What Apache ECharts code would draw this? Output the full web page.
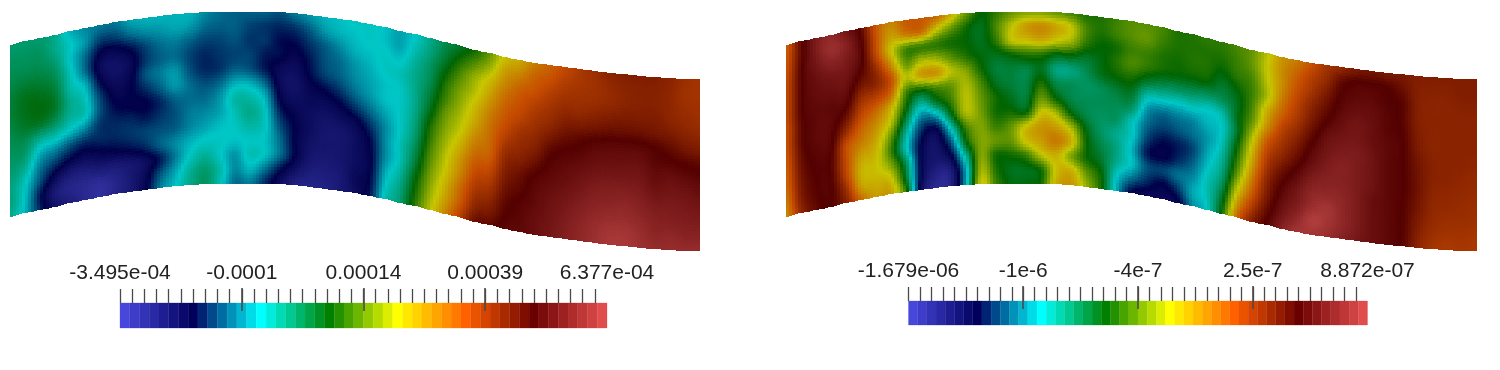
<!DOCTYPE html>
<html><head><meta charset="utf-8">
<style>html,body{margin:0;padding:0;background:#fff}#c{width:1500px;height:370px}</style>
<script src="https://cdn.jsdelivr.net/npm/echarts@6/dist/echarts.min.js"></script>
</head><body><div id="c"></div>
<script>
const rampColors=['#4747db','#00005c','#00ffff','#008000','#ffff00','#ff6100','#6b0000','#e04d4d'];
const surfaceShade=0.78;
const channelX=[10,25,40,55,70,85,100,115,130,145,160,175,190,205,220,235,250,265,280,295,310,325,340,355,370,385,400,415,430,445,460,475,490,505,520,535,550,565,580,595,610,625,640,655,670,685,700];
const topEdge=[45,41,38,35,31,28,25,22,20,18,16,14,13,12,12,12,12,12,12,13,15,17,19,21,24,27,31,34,38,42,45,50,53,57,60,63,65,67,69,71,73,74,76,77,78,79,79];
const channelDepth=172;
// Field values per column (top to bottom), percent of the colour-bar range
const leftField=[
[35,36,37,38,39,39,38,37,36,35,34,34,33],
[35,36,37,39,41,41,40,37,35,32,29,28,27],
[35,36,37,39,41,42,40,33,27,23,20,16,17],
[33,33,35,37,39,40,37,31,24,18,12,8,10],
[27,29,28.5,30,31,33,32,28,20,14,8,5,7],
[24,25,22,22,27,29.5,30,24,17,12,7,4,4],
[23,19,14,12,15,19,20,18,17,13,8,3,2],
[23,19,13,10,11,13,15,17,17,14,8,5,5],
[26,22,15,12,13,14,14,17,18,15,9,8,8],
[27,24,19,18,20,17,14,16,19,17,11,12,13],
[27,25,22,21,23,21,17,18,20,21,16,20,23],
[27,26,23,22,25,25,21,20,21,24,23,26,28],
[27,25,21,19,20,22,22,23,24,27,29,32,33],
[24,22,19,17,17,20,22,24,26,29,32,35,36],
[22,21,19,18,18,22,25,26,28,29,29,31,30],
[21,21,20,19,21,27,31,30,29,28,25,24,22],
[21,19,18,19,20,27,31,33,31,29,30,27,23],
[21,18,18,16,16,22,27,29,29,28,28,22,17],
[20,17,15,15,12,12,14,17,20,22,22,15,11],
[23,18,15,13,11,10,11,13,14,14,14,10,6],
[25,21,18,16,15,13,12,11,11,10,9,7,5],
[27,25,21,20,19,15,12,10,9,9,8,7,6],
[28,27,24,22,21,18,14,11,9,9,9,8,8],
[29,28,27,25,24,22,18,13,11,11,11,12,11],
[29,29,28,27,26,25,22,18,15,14,14,15,16],
[28,28,29,29,28,28,26,24,24,24,26,28,30],
[26,26,28,30,29,29,29,29,30,30,32,34,35],
[28.5,30,32,33,33,33,34,35,37,39,42,44,46],
[33,34,36,37,39,41,44,46,48,50,52,54,56],
[37,39,42,45,47,50,52,54,56,57.5,60,62,65],
[40,44,48,51,53,55,57,60,63,65,68,70,74],
[44,49,54,56,59,61,64,67,70,73,76,79,83],
[50,54,59,62,65,67,68,69,72,75,78,81,84],
[58,62,65,68,70,72,75,78,80,82,84,85.5,87],
[61,65,69,71,73,76,78,80,83,84.5,86.3,87,87.5],
[66,69,71,74,76,78,80,83,86.3,87.5,88,89,89],
[69,71,74,76,78,81,84.5,86.5,87.8,89,90,90.5,91],
[72,74,76,78,80.5,83.5,86.3,87.8,89,90.5,91.5,92.5,93],
[75,75.5,76.5,78,81,85,87,89,90.5,92,93.5,94.5,95],
[77,76.5,77,79,82,86.4,88.5,90,92,93.5,95,96.5,97],
[79,78,78,80,83,87,88.8,90.5,92.5,94,96,98,99],
[80,79,79,80.5,83,87,89,90.5,92.5,94.5,96,98,99],
[80,79.5,79.5,80.5,83,87,89,90.5,92,93.5,95,96.5,97],
[80,79.5,79.5,80.5,82,85.8,87,88.5,90,92,93.5,94.5,96],
[79,78.5,78.5,79,81,84,86.5,89,90.5,92,93,95,96],
[77,76.5,77,78,79.5,82,85.5,88,90,91.5,92.5,94,96],
[76,76,76.5,77,78.5,81,84.5,87,89,90.5,92,94,96]];
const rightField=[
[69,70,71,72,72,72,71,71,70,69,68,66,64],
[84,84,85,85,85,85,84,84,83,82,81,80,78],
[92,92,90.5,89,88.3,87.5,87.5,87.5,86.8,86,85.5,85,84],
[95,96.5,93.5,90.5,89,87.5,87.5,86.8,86,85,85.5,86,85.5],
[90.5,93.5,92,90.5,89,86.8,83,78,72,72,73,77,80],
[84,86,86.8,85.5,82,77,73,69,66,62,60,62,68],
[70,71,72,77,79,74,68,64,61,59,58,60,62],
[65,62,58,64,71,68,60,56,50,47,52,58,62],
[70,66,48,50,56,48,44,38,32,30,37,40,46],
[70,67,47,55,62,44,32,23,17,14,14,14,12],
[68,57,46,54,63,48,40,25,13,10,9,6,4],
[60,50,44,49,56,50,47,41,29,20,13,7,6],
[50,44,43,45,52,55,56,55,47,42,32,26,26],
[43,41,41,42,44,48,50,51,52,52,52,54,57],
[46,48,46,41,39,41,44,44,47,50,44,45,47],
[50,56,56,43,39,39,41,44,50,50,44,41,42],
[52,62,58,45,38,38,39,43,58,58,47,41,42],
[52,64,60,45,41,45,50,57,63,62,56,44,44],
[50,61,57,42,34,38,43,54,62,66,60,58,60],
[48,57,54,42,34,37,38,43,55,60,52,60,63],
[45,48,46,40,37,36,37,38,42,44,44,50,54],
[45,45,43,42,41,37,37,36,36,38,40,43,44],
[47,47,44,45,43,39,37,36,33,34,33,29,27],
[49,49,47,48,44,40,36,30,29,27,28,22,14],
[49,50,47,46,40,31,25,22,19,16,20,17,12],
[48,47,45,44,38,30,22,19,15,13.5,19,14,12],
[45,45,44,43,37,29,23,20,16,17,22,18,13],
[45,45,45,43,37,30,24,22,19,21,24,26,24],
[46,45,45,43,36,29,27,25,26,28,30,30,29],
[46,45,43,40,37,31,29,30,32,34,37,41,44],
[48,47,46,43,41,41,40,43,46,50,56,62,68],
[50,50,48,47,48,50,55,59,62,66,70,75,80],
[56,57,56,55,60,63,69,73,76,79,81,84,86.5],
[63,64,64,66,69,73,76,79,83,86,88.3,90.5,93.5],
[66,69,71,73,75,78,81,84,87.5,90.5,92,95,98],
[71,74,76,79,81,84,86.8,89,92,94.5,96.5,100,98],
[76,78,81,83.5,86,89,90.5,92,93.5,95,98,98,96.5],
[78,84,86,87.5,89,90.5,92,93.5,93.5,94.5,95,95,93.5],
[81,86,87.5,89,90.5,91,92,92,92,92,92,92,91],
[82,86,87.5,88.5,89,89,90,90,90,89,89,89,89],
[81,85.5,86,86.8,86.8,87.5,87.5,87.5,87.5,87.5,87.5,87.5,87.5],
[81,83,85,85,85.5,86,86,86,86,85.7,85.5,85.5,85],
[80,80,80,80,80.5,81,82,82.5,82.5,82,81,80,79],
[80,79.5,79,79,79,79,79.5,79.5,79,78.5,78,77,76],
[80,79.5,79,79,79,79,79,79,78.5,78,77,76,75],
[80,80,79.5,79,79,79,79,78.5,78,77.5,77,76,75.5],
[80,80,79.5,79,79,79,78.5,78,77.5,77,76.5,75.5,75]];
const leftRange=[-3.495e-4,6.377e-4];
const rightRange=[-1.679e-6,8.872e-7];
const leftTickValues=[-3.495e-4,-1.027e-4,1.441e-4,3.909e-4,6.377e-4];
const rightTickValues=[-1.679e-6,-1.0375e-6,-3.96e-7,2.455e-7,8.872e-7];
const leftTickLabels=['-3.495e-04','-0.0001','0.00014','0.00039','6.377e-04'];
const rightTickLabels=['-1.679e-06','-1e-6','-4e-7','2.5e-7','8.872e-07'];
const barSteps=50, tickSteps=40, SUB=5;

const rowFrac=j=>j/12;
const rgb=s=>echarts.color.parse(s);
function shaded(p){
  const c=rgb(echarts.color.lerp(Math.max(0,Math.min(1,p/100)),rampColors));
  return 'rgb('+Math.round(c[0]*surfaceShade)+','+Math.round(c[1]*surfaceShade)+','+Math.round(c[2]*surfaceShade)+')';
}
// Catmull-Rom surface shading inside a cell
const cr=(a,b,c,d,t)=>b+.5*t*(c-a+t*(2*a-5*b+4*c-d+t*(3*(b-c)+d-a)));
function sample(field,i,j,u,w){
  const vals=[];
  for(let k=-1;k<=2;k++){
    const col=field[Math.max(0,Math.min(field.length-1,i+k))];
    const g=n=>col[Math.max(0,Math.min(12,n))];
    vals.push(cr(g(j-1),g(j),g(j+1),g(j+2),w));
  }
  return cr(vals[0],vals[1],vals[2],vals[3],u);
}
function fieldSeries(field,axis){
  const data=[];
  field.forEach((col,i)=>col.forEach((v,j)=>data.push([channelX[i],topEdge[i]+rowFrac(j)*channelDepth,v,i,j])));
  return {type:'custom',coordinateSystem:'cartesian2d',xAxisIndex:axis,yAxisIndex:axis,silent:true,animation:false,progressive:0,
    encode:{x:0,y:1},data,
    renderItem(params,api){
      const i=api.value(3),j=api.value(4);
      if(i>=channelX.length-1||j>=12) return null;
      const children=[];
      const x0=channelX[i],x1=channelX[i+1],t0=topEdge[i],t1=topEdge[i+1];
      for(let m=0;m<SUB;m++)for(let n=0;n<SUB;n++){
        const um=(m+.5)/SUB;
        const edge=t0+(t1-t0)*um;
        const a=api.coord([x0+(x1-x0)*m/SUB,edge+rowFrac(j+n/SUB)*channelDepth]);
        const b=api.coord([x0+(x1-x0)*(m+1)/SUB,edge+rowFrac(j+(n+1)/SUB)*channelDepth]);
        const ax=Math.round(a[0]),ay=Math.round(a[1]),bx=Math.round(b[0]),by=Math.round(b[1]);
        children.push({type:'rect',shape:{x:ax,y:ay,width:bx-ax,height:by-ay},style:{fill:shaded(sample(field,i,j,um,(n+.5)/SUB))}});
      }
      return {type:'group',children};
    }};
}
function barSeries(range,xIndex,yIndex){
  const span=range[1]-range[0],data=[];
  for(let k=0;k<barSteps;k++)data.push([range[0]+span*k/barSteps,range[0]+span*(k+1)/barSteps,k/(barSteps-1)]);
  return {type:'custom',coordinateSystem:'cartesian2d',xAxisIndex:xIndex,yAxisIndex:yIndex,silent:true,animation:false,z:1,data,encode:{x:[0,1]},
    renderItem(params,api){
      const a=api.coord([api.value(0),1]),b=api.coord([api.value(1),0]);
      const col=echarts.color.lerp(api.value(2),rampColors);
      return {type:'rect',shape:{x:a[0],y:a[1],width:b[0]-a[0],height:b[1]-a[1]},style:{fill:col,stroke:col,lineWidth:.3}};
    }};
}
function tickList(range){const r=[];for(let k=0;k<=tickSteps;k++)r.push(range[0]+(range[1]-range[0])*k/tickSteps);return r;}
function barAxes(range,vals,labels,gridIndex){
  const base={type:'value',gridIndex,min:range[0],max:range[1],position:'top',splitLine:{show:false},z:5};
  return [
   {...base,axisLine:{show:false,onZero:false},axisTick:{show:true,customValues:tickList(range),length:14,lineStyle:{color:'#4a4a4a',width:1.3}},
    axisLabel:{show:true,customValues:vals,showMinLabel:true,showMaxLabel:true,hideOverlap:false,margin:19,fontFamily:'Liberation Sans',fontSize:21,color:'#222',
      formatter:v=>{let best=0;vals.forEach((t,i)=>{if(Math.abs(t-v)<Math.abs(vals[best]-v))best=i});return labels[best];}}},
   {...base,offset:-8,axisLine:{show:false,onZero:false},axisTick:{show:true,customValues:vals.slice(1,4),length:23,lineStyle:{color:'#4a4a4a',width:1.6}},axisLabel:{show:false}}
  ];
}
const fieldAxisX=g=>({type:'value',gridIndex:g,min:10,max:700,show:false});
const fieldAxisY=g=>({type:'value',gridIndex:g,min:0,max:370,inverse:true,show:false});
const barAxisY=g=>({type:'value',gridIndex:g,min:0,max:1,show:false});
const chart=echarts.init(document.getElementById('c'),null,{renderer:'canvas'});
chart.setOption({
 animation:false,backgroundColor:'#fff',
 grid:[
  {left:10,top:0,width:690,height:370},
  {left:786,top:0,width:691,height:370},
  {left:120,top:303,width:487,height:25},
  {left:908.5,top:301,width:459,height:24}],
 xAxis:[fieldAxisX(0),fieldAxisX(1),...barAxes(leftRange,leftTickValues,leftTickLabels,2),...barAxes(rightRange,rightTickValues,rightTickLabels,3)],
 yAxis:[fieldAxisY(0),fieldAxisY(1),barAxisY(2),barAxisY(3)],
 series:[fieldSeries(leftField,0),fieldSeries(rightField,1),barSeries(leftRange,2,2),barSeries(rightRange,4,3)]
});
</script></body></html>
